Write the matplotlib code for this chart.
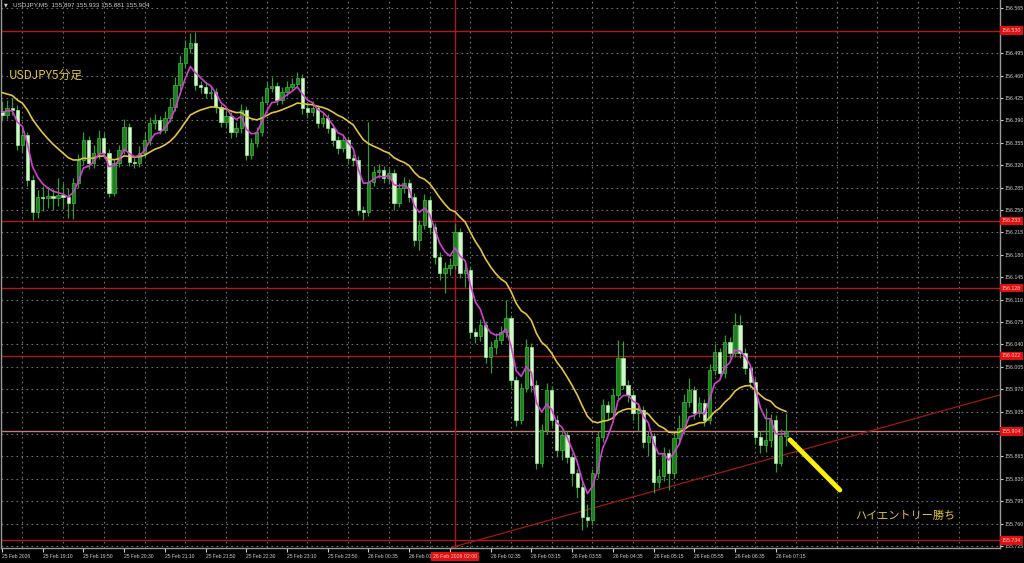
import matplotlib.pyplot as plt
import pandas as pd

# USDJPY M5 candles, 25 Feb 18:30 -> 26 Feb 07:25
closes = [156.398, 156.409, 156.406, 156.352, 156.367, 156.297, 156.247, 156.270, 156.269, 156.272,
          156.269, 156.273, 156.270, 156.261, 156.292, 156.328, 156.359, 156.323, 156.339, 156.363,
          156.339, 156.277, 156.323, 156.344, 156.380, 156.325, 156.323, 156.339, 156.359, 156.386,
          156.391, 156.375, 156.394, 156.411, 156.445, 156.480, 156.503, 156.511, 156.445, 156.442,
          156.433, 156.434, 156.411, 156.388, 156.397, 156.372, 156.378, 156.406, 156.336, 156.355,
          156.372, 156.419, 156.441, 156.444, 156.422, 156.434, 156.442, 156.447, 156.456, 156.409,
          156.403, 156.409, 156.386, 156.394, 156.378, 156.359, 156.347, 156.359, 156.331, 156.328,
          156.250, 156.247, 156.294, 156.309, 156.312, 156.300, 156.308, 156.261, 156.284, 156.292,
          156.270, 156.203, 156.227, 156.266, 156.223, 156.177, 156.152, 156.159, 156.164, 156.216,
          156.152, 156.156, 156.059, 156.053, 156.070, 156.020, 156.036, 156.047, 156.059, 156.081,
          155.984, 155.922, 155.972, 156.036, 155.977, 155.855, 155.906, 155.969, 155.922, 155.875,
          155.898, 155.864, 155.839, 155.817, 155.770, 155.766, 155.839, 155.895, 155.945, 155.934,
          155.961, 156.019, 155.977, 155.961, 155.933, 155.938, 155.888, 155.897, 155.825, 155.834,
          155.870, 155.839, 155.894, 155.909, 155.950, 155.969, 155.933, 155.948, 155.922, 156.000,
          156.028, 155.995, 156.044, 156.027, 156.070, 156.027, 156.003, 155.981, 155.895, 155.883,
          155.891, 155.922, 155.855, 155.897, 155.904]
highs = [156.420, 156.422, 156.425, 156.414, 156.380, 156.372, 156.305, 156.281, 156.288, 156.286,
         156.283, 156.300, 156.292, 156.284, 156.300, 156.338, 156.372, 156.366, 156.352, 156.375,
         156.370, 156.345, 156.330, 156.352, 156.392, 156.386, 156.334, 156.350, 156.372, 156.395,
         156.400, 156.397, 156.405, 156.425, 156.458, 156.492, 156.516, 156.527, 156.528, 156.452,
         156.450, 156.444, 156.440, 156.416, 156.406, 156.403, 156.388, 156.416, 156.412, 156.362,
         156.380, 156.428, 156.452, 156.458, 156.450, 156.442, 156.452, 156.456, 156.466, 156.462,
         156.416, 156.420, 156.414, 156.402, 156.400, 156.384, 156.366, 156.368, 156.364, 156.338,
         156.334, 156.256, 156.387, 156.318, 156.322, 156.318, 156.316, 156.314, 156.292, 156.302,
         156.298, 156.276, 156.234, 156.275, 156.272, 156.230, 156.184, 156.168, 156.175, 156.228,
         156.222, 156.167, 156.162, 156.066, 156.080, 156.076, 156.046, 156.058, 156.068, 156.109,
         156.086, 155.990, 155.980, 156.048, 156.042, 155.984, 155.916, 155.980, 155.975, 155.930,
         155.907, 155.905, 155.870, 155.846, 155.825, 155.790, 155.846, 155.905, 155.955, 155.952,
         155.972, 156.047, 156.045, 155.985, 155.968, 155.948, 155.944, 155.905, 155.902, 155.845,
         155.880, 155.876, 155.905, 155.930, 155.962, 155.988, 155.975, 155.958, 155.955, 156.010,
         156.040, 156.035, 156.055, 156.052, 156.089, 156.086, 156.034, 156.010, 155.988, 155.905,
         155.940, 155.932, 155.930, 155.908, 155.933]
lows = [156.390, 156.392, 156.398, 156.344, 156.340, 156.288, 156.234, 156.238, 156.248, 156.253,
        156.250, 156.256, 156.252, 156.238, 156.236, 156.285, 156.320, 156.314, 156.316, 156.330,
        156.331, 156.270, 156.272, 156.317, 156.338, 156.318, 156.315, 156.317, 156.333, 156.352,
        156.377, 156.369, 156.370, 156.388, 156.405, 156.438, 156.472, 156.495, 156.438, 156.433,
        156.425, 156.424, 156.402, 156.379, 156.380, 156.363, 156.364, 156.370, 156.328, 156.330,
        156.348, 156.366, 156.414, 156.434, 156.414, 156.416, 156.428, 156.436, 156.440, 156.400,
        156.395, 156.397, 156.378, 156.380, 156.370, 156.350, 156.338, 156.340, 156.322, 156.318,
        156.242, 156.234, 156.240, 156.288, 156.300, 156.292, 156.290, 156.250, 156.255, 156.276,
        156.262, 156.194, 156.188, 156.220, 156.212, 156.166, 156.140, 156.120, 156.148, 156.158,
        156.144, 156.130, 156.050, 156.042, 156.046, 156.011, 155.995, 156.025, 156.040, 156.052,
        155.975, 155.912, 155.915, 155.965, 155.966, 155.845, 155.848, 155.900, 155.912, 155.864,
        155.860, 155.855, 155.818, 155.800, 155.750, 155.755, 155.758, 155.832, 155.888, 155.924,
        155.926, 155.955, 155.970, 155.950, 155.922, 155.905, 155.878, 155.866, 155.808, 155.815,
        155.826, 155.812, 155.832, 155.885, 155.900, 155.942, 155.924, 155.926, 155.912, 155.915,
        155.992, 155.986, 155.988, 156.018, 156.020, 156.018, 155.994, 155.972, 155.884, 155.870,
        155.872, 155.880, 155.840, 155.850, 155.881]
first_open = 156.405
opens = [first_open] + closes[:-1]

time_labels = ["25 Feb 2026", "25 Feb 19:10", "25 Feb 19:50", "25 Feb 20:30", "25 Feb 21:10",
               "25 Feb 21:50", "25 Feb 22:30", "25 Feb 23:10", "25 Feb 23:50", "26 Feb 00:35",
               "26 Feb 01:15", "26 Feb 01:55", "26 Feb 02:35", "26 Feb 03:15", "26 Feb 03:55",
               "26 Feb 04:35", "26 Feb 05:15", "26 Feb 05:55", "26 Feb 06:35", "26 Feb 07:15"]

levels = [156.530, 156.233, 156.128, 156.022, 155.734]
bid = 155.904
vline_bar = 89
vline_label = "26 Feb 2026 02:00"
trend_x = [88.4, 196.0]
trend_y = [155.723, 155.961]
arrow_x = [154.8, 164.6]
arrow_y = [155.891, 155.8125]

n = len(closes)
bars = list(range(n))

# moving averages seeded with the value shown at the left edge
fast = pd.Series([156.405] + closes).ewm(span=5, adjust=False).mean()[1:].values
slow = pd.Series([156.437] + closes).ewm(span=21, adjust=False).mean()[1:].values

small = 'Liberation Sans'

fig = plt.figure(figsize=(10.24, 5.63), dpi=100, facecolor='black')
ax = fig.add_axes([1 / 1024, 15 / 563, 999 / 1024, 548 / 563], facecolor='black')
ax.set_xlim(-0.2, 196.07)
ax.set_ylim(155.7219, 156.5781)

yt = [155.725 + 0.035 * k for k in range(25)]
xt = list(range(0, n, 8))
ax.set_yticks(yt)
ax.set_yticklabels(['%.3f' % v for v in yt])
ax.set_xticks(xt)
ax.set_xticklabels(time_labels[:len(xt)])
ax.yaxis.tick_right()

for y in yt:
    ax.axhline(y, color='#707070', lw=0.8, ls=(0, (1.5, 3)), zorder=0)
for b in range(4, 200, 8):
    ax.axvline(b, color='#707070', lw=0.8, ls=(0, (1.5, 3)), zorder=0)

ax.tick_params(axis='y', colors='#cfcfcf', labelsize=3.8, length=2, pad=1.5)
ax.tick_params(axis='x', colors='#cfcfcf', labelsize=3.6, length=3, pad=1.5)
for lab in ax.get_xticklabels():
    lab.set_horizontalalignment('left')
    lab.set_fontfamily(small)
for lab in ax.get_yticklabels():
    lab.set_fontfamily(small)
for side in ['left', 'right', 'bottom']:
    ax.spines[side].set_color('#9a9a9a')
    ax.spines[side].set_linewidth(1)
ax.spines['top'].set_visible(False)

# levels and lines
for lv in levels:
    ax.axhline(lv, color='#b01818', lw=1, zorder=1)
ax.axhline(bid, color='#c87878', lw=1, zorder=1)
ax.axvline(vline_bar, color='#b01818', lw=1, zorder=1)
ax.plot(trend_x, trend_y, color='#a01818', lw=0.9, zorder=1)

# candles
up_col = ['#1f7f1f' if c >= o else '#d2f7ca' for o, c in zip(opens, closes)]
edge_col = ['#3dbd3d' if c >= o else '#9fe897' for o, c in zip(opens, closes)]
bottoms = [min(o, c) for o, c in zip(opens, closes)]
heights = [max(abs(c - o), 0.0016) for o, c in zip(opens, closes)]
ax.vlines(bars, lows, highs, color='#2f9f2f', lw=0.9, zorder=2)
ax.bar(bars, heights, bottom=bottoms, width=0.66, color=up_col, edgecolor=edge_col, linewidth=0.5, zorder=3)

ax.plot(bars, slow, color='#e3c43c', lw=1.2, zorder=4)
ax.plot(bars, fast, color='#d040d0', lw=1.2, zorder=5)

ax.plot(arrow_x, arrow_y, color='#fff000', lw=3.5, solid_capstyle='round', zorder=6)

# price labels on the right axis
for lv in levels + [bid]:
    ax.text(1.002, lv, '%.3f' % lv, transform=ax.get_yaxis_transform(), fontsize=3.8,
            family=small, color='#ffc8c8', va='center', ha='left', clip_on=False, zorder=10,
            bbox=dict(boxstyle='square,pad=0.35', facecolor='#e01010', edgecolor='none'))
ax.text(vline_bar, -0.011, vline_label, transform=ax.get_xaxis_transform(), fontsize=3.8,
        family=small, color='#ffc8c8', va='top', ha='center', clip_on=False, zorder=10,
        bbox=dict(boxstyle='square,pad=0.4', facecolor='#e01010', edgecolor='none'))

jp = ['Noto Sans CJK JP', 'DejaVu Sans']
ax.text(0.008, 0.862, 'USDJPY5分足', transform=ax.transAxes, fontsize=8.5, color='#e3c43c',
        family=jp, va='center', ha='left')
fig.text(855 / 1024, 1 - 516 / 563, 'ハイエントリー勝ち', fontsize=8, color='#e3c43c',
         family=jp, va='center', ha='left')

fig.text(4 / 1024, 1 - 5 / 563, '▼', fontsize=3.5, color='#cfcfcf', va='center', ha='left')
fig.text(13 / 1024, 1 - 5 / 563, 'USDJPY,M5  155.897 155.933 155.881 155.904', fontsize=4.6,
         family=small, color='#cfcfcf', va='center', ha='left')

fig.savefig('out.png', dpi=100, facecolor='black')
